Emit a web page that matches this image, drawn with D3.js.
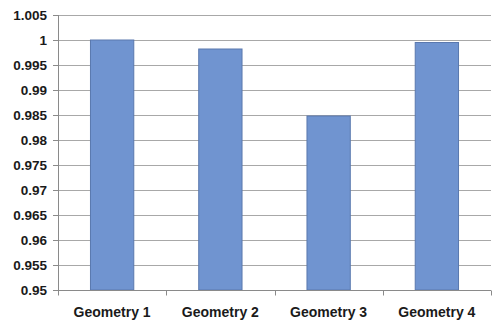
<!DOCTYPE html>
<html>
<head>
<meta charset="utf-8">
<script src="https://cdn.jsdelivr.net/npm/d3@7"></script>
<style>
  body { margin: 0; background: #fff; }
  text { font-family: "Liberation Sans", Arial, sans-serif; font-weight: bold; fill: #1a1a1a; }
</style>
</head>
<body>
<div class="canvas"></div>
<script>
const w = 492;
const h = 322;

// data
const categories = ["Geometry 1", "Geometry 2", "Geometry 3", "Geometry 4"];
const values = [1.0, 0.9982, 0.9848, 0.9995];
const yTicks = [0.95, 0.955, 0.96, 0.965, 0.97, 0.975, 0.98, 0.985, 0.99, 0.995, 1, 1.005];

const margin = { top: 15, right: 1, bottom: 32, left: 58 };
const graphWidth = w - margin.left - margin.right;
const graphHeight = h - margin.top - margin.bottom;

const svg = d3.select(".canvas").append("svg").attr("width", w).attr("height", h);

const graph = svg.append("g")
  .attr("transform", `translate(${margin.left}, ${margin.top})`);

const xScale = d3.scaleBand().domain(categories).range([0, graphWidth])
  .paddingInner(0.6).paddingOuter(0.3);
const yScale = d3.scaleLinear().domain([0.95, 1.005]).range([graphHeight, 0]);

// gridlines
graph.append("g")
  .selectAll("line")
  .data(yTicks)
  .enter()
  .append("line")
  .attr("x1", 0)
  .attr("x2", graphWidth)
  .attr("y1", d => Math.round(yScale(d)) + 0.5)
  .attr("y2", d => Math.round(yScale(d)) + 0.5)
  .attr("stroke", "#a8a8a8")
  .attr("stroke-width", 1);

// bars
graph.selectAll("rect.bar")
  .data(values)
  .enter()
  .append("rect")
  .attr("class", "bar")
  .attr("x", (d, i) => xScale(categories[i]))
  .attr("y", d => yScale(d))
  .attr("width", xScale.bandwidth())
  .attr("height", d => graphHeight - yScale(d))
  .attr("fill", "#7094d0")
  .attr("stroke", "#5a78ae")
  .attr("stroke-width", 1);

// y axis
const yAxis = d3.axisLeft(yScale)
  .tickValues(yTicks)
  .tickFormat(d => d3.format("")(+d.toFixed(3)))
  .tickSize(5)
  .tickPadding(6);

const gy = graph.append("g").attr("id", "y-axis").call(yAxis);
gy.select(".domain").attr("stroke", "#8a8a8a").attr("d", `M0.5,${graphHeight}V0`);
gy.selectAll(".tick line").attr("stroke", "#8a8a8a");
gy.selectAll(".tick text").style("font-size", "13.5px");

// x axis
const xAxis = d3.axisBottom(xScale).tickSize(0).tickPadding(17);
const gx = graph.append("g")
  .attr("id", "x-axis")
  .attr("transform", `translate(0, ${graphHeight + 0.5})`)
  .call(xAxis);
gx.select(".domain").attr("stroke", "#8a8a8a").attr("d", `M0,0H${graphWidth}`);
gx.selectAll(".tick text").style("font-size", "14px");

// category separator ticks
const step = graphWidth / categories.length;
gx.append("g")
  .selectAll("line")
  .data(d3.range(categories.length + 1))
  .enter()
  .append("line")
  .attr("x1", i => Math.round(i * step) + 0.5)
  .attr("x2", i => Math.round(i * step) + 0.5)
  .attr("y1", 0)
  .attr("y2", 5)
  .attr("stroke", "#8a8a8a");
</script>
</body>
</html>
